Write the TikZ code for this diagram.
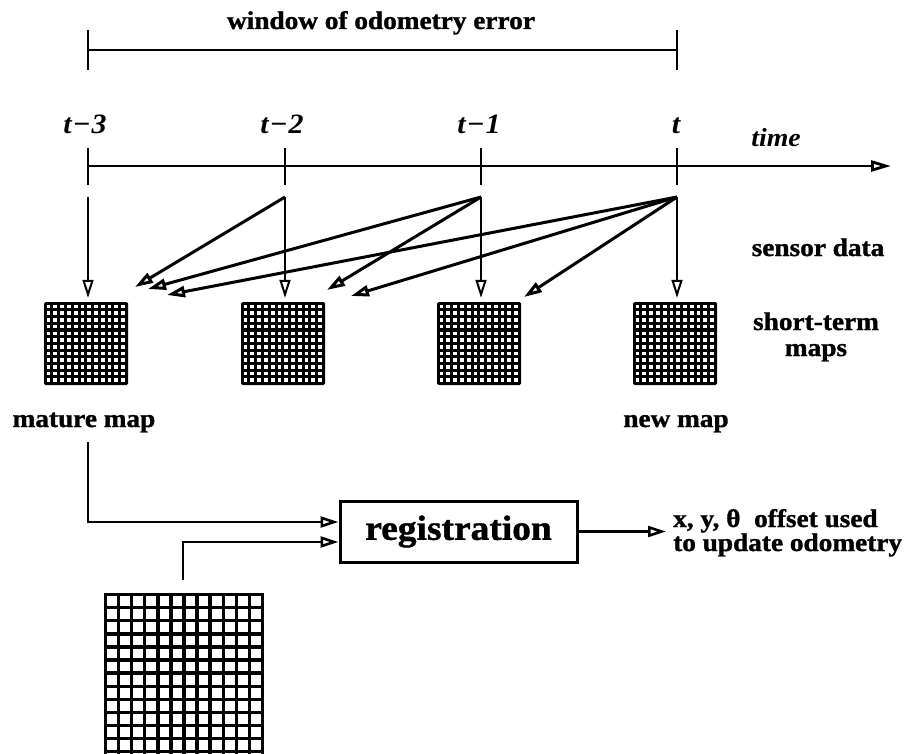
\documentclass[tikz,border=0pt]{standalone}
\usepackage{fontspec}
\setmainfont{Liberation Serif}[FakeStretch=1.07, BoldFeatures={FakeBold=1.2}]
\usetikzlibrary{arrows.meta,calc}
\newcommand{\mysmallgrid}[2]{%
  \node[fill=black, rounded corners=1.5pt, minimum width=84pt, minimum height=83pt, inner sep=0pt] (#1) at (#2,343.5) {};
  \foreach \i in {0,...,11}{\foreach \j in {0,...,11}{
    \fill[white] ($(#1.north west)+(2.8+\i*6.78,2.9+\j*6.7)$) rectangle ++(3.8,3.6);}}
}
\begin{document}
\begin{tikzpicture}[x=1pt,y=-1pt,
  lbl/.style={font=\fontsize{25.5}{23}\selectfont\bfseries, inner sep=0pt, anchor=base},
  tlab/.style={font=\fontsize{28}{28}\selectfont\bfseries\itshape, inner sep=0pt, anchor=base},
  otip/.style={-{Triangle[open,length=18pt,width=11pt]}},
  thinarr/.style={otip, line width=2pt},
  thickarr/.style={otip, line width=3pt},
]
\useasboundingbox (0,0) rectangle (907,754);
\fill[white] (0,0) rectangle (907,754);

% window of odometry error
\node[lbl] (title) at (381,29) {window of odometry error};
\coordinate (w1) at (88,50);
\coordinate (w2) at (677,50);
\draw[line width=2.5pt] (w1) -- (w2);
\draw[line width=2pt] ($(w1)+(0,-20)$) -- ($(w1)+(0,20)$);
\draw[line width=2pt] ($(w2)+(0,-20)$) -- ($(w2)+(0,20)$);

% time labels
\node[tlab] (l3) at (85,134) {t\kern1pt−\kern1pt3};
\node[tlab] (l2) at (282,134) {t\kern1pt−\kern1pt2};
\node[tlab] (l1) at (479,134) {t\kern1pt−\kern1pt1};
\node[tlab] (l0) at (676,134) {t};
\node[tlab, font=\fontsize{26}{26}\selectfont\bfseries\itshape] (time) at (776,147) {time};

% timeline
\coordinate (t0) at (88,166);
\coordinate (tend) at (891,166);
\draw[line width=2.8pt, -{Triangle[open,length=20pt,width=11pt]}] (t0) -- (tend);
\foreach \x in {88,285,481,677}{\draw[line width=2pt] (\x,148) -- (\x,185);}

% sources
\coordinate (s1) at (88,197);
\coordinate (s2) at (285,197);
\coordinate (s3) at (481,197);
\coordinate (s4) at (677,197);

% short-term maps
\mysmallgrid{g1}{86}
\mysmallgrid{g2}{283}
\mysmallgrid{g3}{479}
\mysmallgrid{g4}{675}

% vertical arrows
\draw[thinarr, shorten >=4pt] (s1) -- (s1 |- g1.north);
\draw[thinarr, shorten >=4pt] (s2) -- (s2 |- g2.north);
\draw[thinarr, shorten >=4pt] (s3) -- (s3 |- g3.north);
\draw[thinarr, shorten >=4pt] (s4) -- (s4 |- g4.north);

% diagonal arrows
\coordinate (a1) at (135,287);
\coordinate (a2) at (148,289);
\coordinate (a3) at (167,295);
\coordinate (a4) at (327,290);
\coordinate (a5) at (351,296);
\coordinate (a6) at (524,297);
\draw[thickarr] (s2) -- (a1);
\draw[thickarr] (s3) -- (a2);
\draw[thickarr] (s3) -- (a4);
\draw[thickarr] (s4) -- (a3);
\draw[thickarr] (s4) -- (a5);
\draw[thickarr] (s4) -- (a6);

% right labels
\node[lbl] (sensor) at (818,256) {sensor data};
\node[lbl] (st1) at (816,330) {short-term};
\node[lbl] (st2) at (816,356) {maps};
\node[lbl] (mature) at (84,427) {mature map};
\node[lbl] (newmap) at (676,427) {new map};

% registration
\node[draw, line width=3pt, minimum width=237pt, minimum height=61pt, inner sep=0pt,
      font=\fontsize{35}{35}\selectfont\bfseries] (reg) at (458.5,531.5) {registration};

\coordinate (m0) at (88,442);
\coordinate (m1) at (88,522);
\draw[otip, line width=2.6pt] (m0) -- (m1) -- (m1 -| reg.west);

\coordinate (b0) at (183,580);
\coordinate (b1) at (183,542);
\draw[otip, line width=2.6pt] (b0) -- (b1) -- (b1 -| reg.west);

\coordinate (out) at (666,531.5);
\draw[otip, line width=2.6pt] (reg.east) -- (out);
\node[lbl, anchor=base west] (o1) at (673,527) {x, y, θ\ \ offset used};
\node[lbl, anchor=base west] (o2) at (673,551) {to update odometry};

% big grid
\begin{scope}
\clip (0,0) rectangle (907,754);
\node[fill=black, minimum width=160pt, minimum height=180pt, inner sep=0pt, anchor=north west] (G) at (104,593) {};
\foreach \i in {0,...,11}{\foreach \j in {0,...,12}{
  \fill[white] ($(G.north west)+(3.2+\i*13.08,3.2+\j*13.1)$) rectangle ++(9.7,9.7);}}
\end{scope}
\end{tikzpicture}
\end{document}
